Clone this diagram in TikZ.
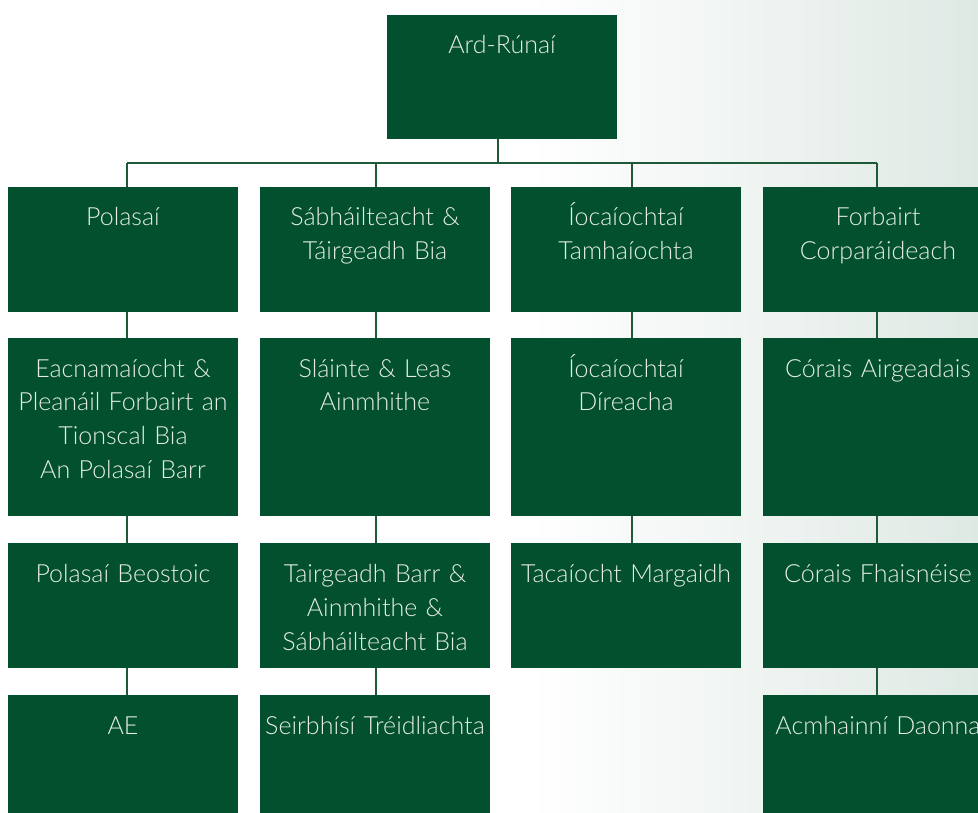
\documentclass[tikz,border=0pt]{standalone}
\usepackage{fontspec}
\IfFontExistsTF{Lato Light}{\setmainfont{Lato Light}}{\setmainfont{Lato}}
\definecolor{boxgreen}{HTML}{02502E}
\definecolor{linegreen}{HTML}{1E5A3A}
\definecolor{txt}{HTML}{E6EDE8}
\definecolor{bgmid}{HTML}{DFE9E4}
\definecolor{bgright}{HTML}{ABC8B9}
\pgfdeclarehorizontalshading{bgshade}{100bp}{color(0bp)=(white); color(52bp)=(white); color(75bp)=(bgmid); color(100bp)=(bgright)}
\begin{document}
\begin{tikzpicture}[x=1pt,y=-1pt,
  orgbox/.style={fill=boxgreen, draw=none, inner sep=0pt, minimum width=230pt},
  hA/.style={minimum height=125pt},
  hB/.style={minimum height=178pt},
  lbl/.style={anchor=north, inner sep=0pt, yshift=-22pt, text width=250pt, align=center,
    text height=17pt, text=txt, font=\fontsize{25}{34}\selectfont},
  conn/.style={draw=linegreen, line width=2.8pt}]
\useasboundingbox (0,0) rectangle (978,813);
\clip (0,0) rectangle (978,813);
\shade[shading=bgshade] (0,0) rectangle (978,813);
% top
\node[orgbox, minimum height=124pt, label={[lbl]north:{Ard-Rúnaí}}] (top) at (502,77) {};
% column 1
\node[orgbox, hA, label={[lbl]north:{Polasaí}}] (c1r1) at (123,249.5) {};
\node[orgbox, hB, label={[lbl]north:{Eacnamaíocht \&\\Pleanáil Forbairt an\\Tionscal Bia\\An Polasaí Barr}}] (c1r2) at (123,427) {};
\node[orgbox, hA, label={[lbl]north:{Polasaí Beostoic}}] (c1r3) at (123,605.5) {};
\node[orgbox, hA, label={[lbl]north:{AE}}] (c1r4) at (123,757.5) {};
% column 2
\node[orgbox, hA, label={[lbl]north:{Sábháilteacht \&\\Táirgeadh Bia}}] (c2r1) at (375,249.5) {};
\node[orgbox, hB, label={[lbl]north:{Sláinte \& Leas\\Ainmhithe}}] (c2r2) at (375,427) {};
\node[orgbox, hA, label={[lbl]north:{Tairgeadh Barr \&\\Ainmhithe \&\\Sábháilteacht Bia}}] (c2r3) at (375,605.5) {};
\node[orgbox, hA, label={[lbl]north:{Seirbhísí Tréidliachta}}] (c2r4) at (375,757.5) {};
% column 3
\node[orgbox, hA, label={[lbl]north:{Íocaíochtaí\\Tamhaíochta}}] (c3r1) at (626,249.5) {};
\node[orgbox, hB, label={[lbl]north:{Íocaíochtaí\\Díreacha}}] (c3r2) at (626,427) {};
\node[orgbox, hA, label={[lbl]north:{Tacaíocht Margaidh}}] (c3r3) at (626,605.5) {};
% column 4
\node[orgbox, hA, label={[lbl]north:{Forbairt\\Corparáideach}}] (c4r1) at (878,249.5) {};
\node[orgbox, hB, label={[lbl]north:{Córais Airgeadais}}] (c4r2) at (878,427) {};
\node[orgbox, hA, label={[lbl]north:{Córais Fhaisnéise}}] (c4r3) at (878,605.5) {};
\node[orgbox, hA, label={[lbl]north:{Acmhainní Daonna}}] (c4r4) at (878,757.5) {};
% connector points
\coordinate (bar) at (498,163);
\coordinate (k1) at (127,163);
\coordinate (k2) at (376,163);
\coordinate (k3) at (632,163);
\coordinate (k4) at (877,163);
\draw[conn] (top.south -| bar) -- (bar);
\draw[conn] (k1) -- (k4);
\draw[conn] (k1) -- (k1 |- c1r1.north);
\draw[conn] (k2) -- (k2 |- c2r1.north);
\draw[conn] (k3) -- (k3 |- c3r1.north);
\draw[conn] (k4) -- (k4 |- c4r1.north);
\draw[conn] (c1r1.south -| k1) -- (c1r2.north -| k1);
\draw[conn] (c1r2.south -| k1) -- (c1r3.north -| k1);
\draw[conn] (c1r3.south -| k1) -- (c1r4.north -| k1);
\draw[conn] (c2r1.south -| k2) -- (c2r2.north -| k2);
\draw[conn] (c2r2.south -| k2) -- (c2r3.north -| k2);
\draw[conn] (c2r3.south -| k2) -- (c2r4.north -| k2);
\draw[conn] (c3r1.south -| k3) -- (c3r2.north -| k3);
\draw[conn] (c3r2.south -| k3) -- (c3r3.north -| k3);
\draw[conn] (c4r1.south -| k4) -- (c4r2.north -| k4);
\draw[conn] (c4r2.south -| k4) -- (c4r3.north -| k4);
\draw[conn] (c4r3.south -| k4) -- (c4r4.north -| k4);
\end{tikzpicture}
\end{document}
